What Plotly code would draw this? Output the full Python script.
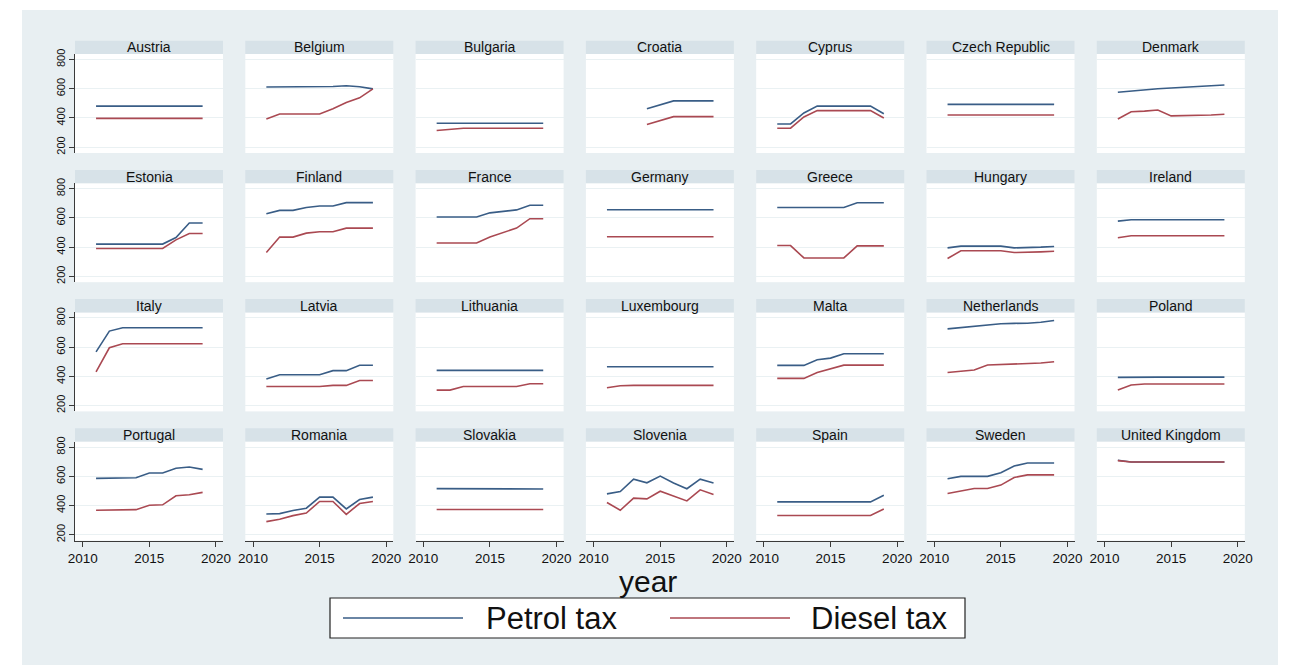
import plotly.graph_objects as go

years = [2011, 2012, 2013, 2014, 2015, 2016, 2017, 2018, 2019]

countries = [
    "Austria", "Belgium", "Bulgaria", "Croatia", "Cyprus", "Czech Republic", "Denmark",
    "Estonia", "Finland", "France", "Germany", "Greece", "Hungary", "Ireland",
    "Italy", "Latvia", "Lithuania", "Luxembourg", "Malta", "Netherlands", "Poland",
    "Portugal", "Romania", "Slovakia", "Slovenia", "Spain", "Sweden", "United Kingdom",
]

petrol_tax = [
    [481, 481, 481, 481, 481, 481, 481, 481, 481],        # Austria
    [612, 612, 612, 612, 613, 615, 621, 614, 599],        # Belgium
    [364, 364, 364, 364, 364, 364, 364, 364, 364],        # Bulgaria
    [None, None, None, 463, 490, 517, 517, 517, 517],     # Croatia
    [359, 359, 434, 481, 481, 481, 481, 481, 429],        # Cyprus
    [493, 493, 493, 493, 493, 493, 493, 493, 493],        # Czech Republic
    [576, 585, 592, 600, 605, 610, 614, 618, 626],        # Denmark
    [421, 421, 421, 421, 421, 421, 466, 565, 565],        # Estonia
    [629, 652, 652, 672, 682, 682, 705, 705, 705],        # Finland
    [607, 607, 607, 607, 635, 646, 655, 687, 687],        # France
    [656, 656, 656, 656, 656, 656, 656, 656, 656],        # Germany
    [672, 672, 672, 672, 672, 672, 704, 704, 704],        # Greece
    [395, 407, 407, 407, 407, 395, 395, 400, 405],        # Hungary
    [578, 588, 588, 588, 588, 588, 588, 588, 588],        # Ireland
    [568, 710, 733, 733, 733, 733, 733, 733, 733],        # Italy
    [382, 411, 411, 411, 411, 439, 439, 476, 476],        # Latvia
    [441, 441, 441, 441, 441, 441, 441, 441, 441],        # Lithuania
    [466, 466, 466, 466, 466, 466, 466, 466, 466],        # Luxembourg
    [475, 475, 475, 514, 525, 555, 555, 555, 555],        # Malta
    [725, 734, 745, 754, 760, 763, 764, 771, 783],        # Netherlands
    [393, 395, 395, 395, 395, 395, 395, 395, 395],        # Poland
    [586, 587, 588, 590, 623, 623, 655, 664, 648],        # Portugal
    [342, 345, 366, 382, 458, 458, 377, 441, 458],        # Romania
    [516, 516, 516, 516, 516, 516, 516, 516, 513],        # Slovakia
    [480, 496, 581, 556, 602, 554, 515, 581, 554],        # Slovenia
    [425, 425, 425, 425, 425, 425, 425, 425, 470],        # Spain
    [584, 600, 600, 600, 625, 671, 691, 691, 691],        # Sweden
    [710, 698, 698, 698, 698, 698, 698, 698, 698],        # United Kingdom
]

diesel_tax = [
    [397, 397, 397, 397, 397, 397, 397, 397, 397],        # Austria
    [393, 427, 427, 427, 427, 463, 506, 538, 599],        # Belgium
    [314, 322, 330, 330, 330, 330, 330, 330, 330],        # Bulgaria
    [None, None, None, 355, 382, 409, 409, 409, 409],     # Croatia
    [330, 330, 407, 450, 450, 450, 450, 450, 400],        # Cyprus
    [420, 420, 420, 420, 420, 420, 420, 420, 420],        # Czech Republic
    [393, 443, 447, 454, 414, 415, 417, 420, 425],        # Denmark
    [391, 391, 391, 391, 391, 391, 450, 494, 494],        # Estonia
    [363, 469, 469, 496, 505, 505, 530, 530, 530],        # Finland
    [428, 428, 428, 428, 469, 501, 531, 595, 595],        # France
    [471, 471, 471, 471, 471, 471, 471, 471, 471],        # Germany
    [411, 411, 326, 326, 326, 326, 409, 409, 409],        # Greece
    [322, 375, 375, 375, 375, 363, 364, 368, 372],        # Hungary
    [464, 478, 478, 478, 478, 478, 478, 478, 478],        # Ireland
    [430, 596, 623, 623, 623, 623, 623, 623, 623],        # Italy
    [331, 331, 331, 331, 331, 338, 338, 372, 372],        # Latvia
    [306, 306, 331, 331, 331, 331, 331, 349, 349],        # Lithuania
    [322, 336, 338, 338, 338, 338, 338, 338, 338],        # Luxembourg
    [386, 386, 386, 427, 450, 477, 477, 477, 477],        # Malta
    [426, 435, 444, 478, 482, 485, 485, 491, 500],        # Netherlands
    [306, 341, 348, 348, 348, 348, 348, 348, 348],        # Poland
    [368, 370, 371, 372, 402, 405, 467, 474, 490],        # Portugal
    [290, 306, 331, 349, 428, 428, 340, 414, 428],        # Romania
    [373, 373, 373, 373, 373, 373, 373, 373, 373],        # Slovakia
    [421, 368, 451, 446, 498, 466, 432, 508, 476],        # Slovenia
    [332, 332, 332, 332, 332, 332, 332, 332, 377],        # Spain
    [483, 499, 517, 517, 540, 592, 610, 610, 610],        # Sweden
    [708, 698, 698, 698, 698, 698, 698, 698, 698],        # United Kingdom
]

x_ticks = [2010, 2015, 2020]
y_ticks = [200, 400, 600, 800]
series_names = ["Petrol tax", "Diesel tax"]

# --- styling -----------------------------------------------------------
W, H = 1295, 667
FONT = "Liberation Sans, Arial, sans-serif"
PETROL_COLOR = "#395d86"
DIESEL_COLOR = "#aa4952"
REGION_BG = "#e8eff2"
STRIP_BG = "#d7e2e8"
GRID = "#eaf1f3"
AXIS = "#3a3a3a"

N_COLS, N_ROWS = 7, 4
PANEL_LEFT, PANEL_W, COL_STEP = 75.0, 148.0, 170.3
STRIP_TOP, STRIP_H, PLOT_H, ROW_STEP = 40.7, 13.3, 99.0, 129.2


def px_x(v):
    return v / W


def px_y(v):
    return 1 - v / H


fig = go.Figure()
shapes = []
annotations = []
layout_axes = {}

for i, name in enumerate(countries):
    r, c = divmod(i, N_COLS)
    idx = "" if i == 0 else str(i + 1)
    x0 = PANEL_LEFT + c * COL_STEP
    x1 = x0 + PANEL_W
    s_top = STRIP_TOP + r * ROW_STEP
    p_top = s_top + STRIP_H
    p_bot = p_top + PLOT_H

    fig.add_trace(go.Scatter(x=years, y=petrol_tax[i], mode="lines",
                             line=dict(color=PETROL_COLOR, width=1.6),
                             name=series_names[0], showlegend=False,
                             xaxis="x" + idx, yaxis="y" + idx))
    fig.add_trace(go.Scatter(x=years, y=diesel_tax[i], mode="lines",
                             line=dict(color=DIESEL_COLOR, width=1.6),
                             name=series_names[1], showlegend=False,
                             xaxis="x" + idx, yaxis="y" + idx))

    bottom_row = r == N_ROWS - 1
    first_col = c == 0
    layout_axes["xaxis" + idx] = dict(
        domain=[px_x(x0), px_x(x1)], anchor="y" + idx, automargin=False,
        range=[2009.42, 2020.53], tickvals=x_ticks,
        showgrid=False, zeroline=False,
        showline=bottom_row, linecolor=AXIS, linewidth=1,
        ticks="outside" if bottom_row else "", ticklen=5, tickcolor=AXIS,
        showticklabels=bottom_row,
        tickfont=dict(family=FONT, size=13.5, color="#111"),
    )
    layout_axes["yaxis" + idx] = dict(
        domain=[px_y(p_bot), px_y(p_top)], anchor="x" + idx, automargin=False,
        range=[160, 838], tickvals=y_ticks,
        showgrid=True, gridcolor=GRID, gridwidth=1, zeroline=False,
        showline=first_col, linecolor=AXIS, linewidth=1,
        ticks="outside" if first_col else "", ticklen=5, tickcolor=AXIS,
        showticklabels=first_col, tickangle=-90,
        tickfont=dict(family=FONT, size=11, color="#111"),
    )

    shapes.append(dict(type="rect", xref="paper", yref="paper",
                       x0=px_x(x0), x1=px_x(x1), y0=px_y(p_top), y1=px_y(s_top),
                       fillcolor=STRIP_BG, line=dict(width=0), layer="below"))
    annotations.append(dict(text=name, xref="paper", yref="paper",
                            x=px_x((x0 + x1) / 2), y=px_y(s_top + STRIP_H / 2),
                            xanchor="center", yanchor="middle", showarrow=False,
                            font=dict(family=FONT, size=14, color="#111")))

# white border around the graph region
for (a, b, c_, d) in [(0, 0, W, 10), (0, 665, W, H), (0, 0, 22, H), (1278, 0, W, H)]:
    shapes.append(dict(type="rect", xref="paper", yref="paper",
                       x0=px_x(a), x1=px_x(c_), y0=px_y(d), y1=px_y(b),
                       fillcolor="white", line=dict(width=0), layer="below"))

# x axis title
annotations.append(dict(text="year", xref="paper", yref="paper",
                        x=px_x(648), y=px_y(581), xanchor="center", yanchor="middle",
                        showarrow=False, font=dict(family=FONT, size=30, color="#111")))

# legend box
LEG_X0, LEG_X1, LEG_Y0, LEG_Y1 = 330, 965, 598, 638
shapes.append(dict(type="rect", xref="paper", yref="paper",
                   x0=px_x(LEG_X0), x1=px_x(LEG_X1), y0=px_y(LEG_Y1), y1=px_y(LEG_Y0),
                   fillcolor="white", line=dict(color="#222", width=1.2)))
leg_y = (LEG_Y0 + LEG_Y1) / 2
for (lx0, lx1, tx, color, label) in [(343, 463, 484, PETROL_COLOR, series_names[0]),
                                     (670, 790, 809, DIESEL_COLOR, series_names[1])]:
    shapes.append(dict(type="line", xref="paper", yref="paper",
                       x0=px_x(lx0), x1=px_x(lx1), y0=px_y(leg_y), y1=px_y(leg_y),
                       line=dict(color=color, width=1.6)))
    annotations.append(dict(text=label, xref="paper", yref="paper",
                            x=px_x(tx), y=px_y(leg_y), xanchor="left", yanchor="middle",
                            showarrow=False, font=dict(family=FONT, size=31, color="#111")))

fig.update_layout(
    width=W, height=H,
    margin=dict(l=0, r=0, t=0, b=0, autoexpand=False),
    paper_bgcolor=REGION_BG, plot_bgcolor="white",
    showlegend=False,
    shapes=shapes, annotations=annotations,
    **layout_axes,
)

fig.write_html("out.html", config={"displayModeBar": False})
